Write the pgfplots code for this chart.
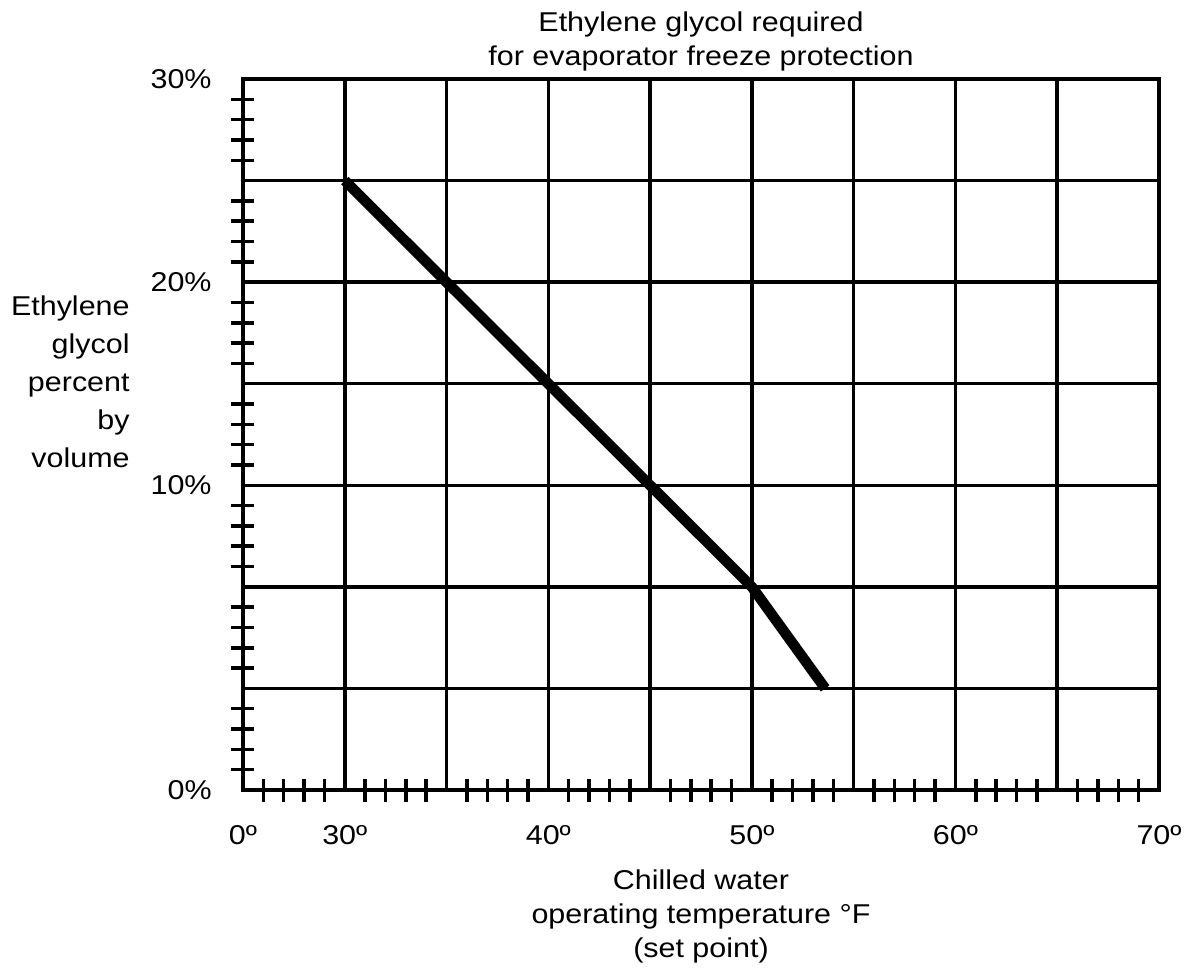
\documentclass[border=0pt]{standalone}
\usepackage{fontspec}
\setmainfont{Liberation Sans}
\usepackage{graphicx}
\usepackage{pgfplots}
\pgfplotsset{compat=1.18}
\newcommand{\sx}[1]{\scalebox{1.12}[1]{#1}}
\begin{document}
\fontsize{13.6}{17}\selectfont
\begin{tikzpicture}
\begin{axis}[
  scale only axis, width=458pt, height=355.5pt,
  xmin=25, xmax=70, ymin=-5, ymax=30,
  clip=false,
  axis line style={line width=1.75pt},
  xtick={25,30,...,70},
  xticklabels={\sx{0º},\sx{30º},,\sx{40º},,\sx{50º},,\sx{60º},,\sx{70º}},
  ytick={-5,0,...,30},
  yticklabels={\sx{0\%},,,\sx{10\%},,\sx{20\%},,\sx{30\%}},
  minor x tick num=4, minor y tick num=4,
  major tick length=0pt, minor tick length=11.5pt,
  tick align=center, tick pos=left,
  tick style={black, line width=1.75pt},
  minor tick style={black, line width=1.75pt},
  grid=major,
  major grid style={black, line width=1.75pt},
  xticklabel style={anchor=north, inner sep=0pt, yshift=-17.5pt},
  yticklabel style={anchor=east, inner sep=0pt, xshift=-15.5pt},
  every axis title/.style={at={(rel axis cs:0.5,1)}, anchor=south, align=center, inner sep=0pt, yshift=3.65pt},
  title={\sx{Ethylene glycol required}\\\sx{for evaporator freeze protection}},
  every axis x label/.style={at={(rel axis cs:0.5,0)}, anchor=north, align=center, inner sep=0pt, yshift=-39.6pt},
  xlabel={\sx{Chilled water}\\\sx{operating temperature °F}\\\sx{(set point)}},
  every axis y label/.style={at={(rel axis cs:0,1)}, anchor=north east, align=right, inner sep=0pt, xshift=-56.5pt, yshift=-108.1pt, font=\fontsize{13.6}{19}\selectfont},
  ylabel={\sx{Ethylene}\\\sx{glycol}\\\sx{percent}\\\sx{by}\\\sx{volume}},
]
\addplot[black, line width=5.25pt] coordinates {(30,25) (35,20) (40,15) (45,10) (50,5) (53.6,0)};
\coordinate (ll) at (rel axis cs:0,0);
\end{axis}
\path (ll) ++(-121.5pt,-92.5pt) rectangle ++(596.5pt,487.5pt);
\end{tikzpicture}
\end{document}
